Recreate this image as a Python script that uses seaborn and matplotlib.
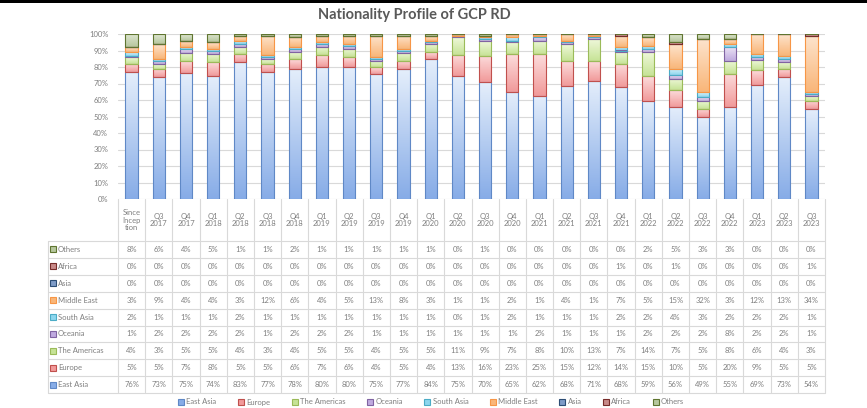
import numpy as np
import pandas as pd
import seaborn as sns
import matplotlib.pyplot as plt
from matplotlib.colors import LinearSegmentedColormap
from matplotlib.patches import Patch, Rectangle

# ---- data (percent share per period) ----
periods = ["Since\nIncep\ntion", "Q3\n2017", "Q4\n2017", "Q1\n2018", "Q2\n2018", "Q3\n2018",
           "Q4\n2018", "Q1\n2019", "Q2\n2019", "Q3\n2019", "Q4\n2019", "Q1\n2020",
           "Q2\n2020", "Q3\n2020", "Q4\n2020", "Q1\n2021", "Q2\n2021", "Q3\n2021",
           "Q4\n2021", "Q1\n2022", "Q2\n2022", "Q3\n2022", "Q4\n2022", "Q1\n2023",
           "Q2\n2023", "Q3\n2023"]

east_asia = [76, 73, 75, 74, 83, 77, 78, 80, 80, 75, 77, 84, 75, 70, 65, 62, 68, 71, 68, 59, 56, 49, 55, 69, 73, 54]
europe = [5, 5, 7, 8, 5, 5, 6, 7, 6, 4, 5, 4, 13, 16, 23, 25, 15, 12, 14, 15, 10, 5, 20, 9, 5, 5]
americas = [4, 3, 5, 5, 4, 3, 4, 5, 5, 4, 5, 5, 11, 9, 7, 8, 10, 13, 7, 14, 7, 5, 8, 6, 4, 3]
oceania = [1, 2, 2, 2, 2, 1, 2, 2, 2, 1, 1, 1, 1, 1, 1, 2, 1, 1, 1, 2, 2, 2, 8, 2, 2, 1]
south_asia = [2, 1, 1, 1, 2, 1, 1, 1, 1, 1, 1, 1, 0, 1, 2, 1, 1, 1, 2, 2, 4, 3, 2, 2, 2, 1]
middle_east = [3, 9, 4, 4, 3, 12, 6, 4, 5, 13, 8, 3, 1, 1, 2, 1, 4, 1, 7, 5, 15, 32, 3, 12, 13, 34]
asia = [0] * 26
africa = [0, 0, 0, 0, 0, 0, 0, 0, 0, 0, 0, 0, 0, 0, 0, 0, 0, 0, 1, 0, 1, 0, 0, 0, 0, 1]
others = [8, 6, 4, 5, 1, 1, 2, 1, 1, 1, 1, 1, 0, 1, 0, 0, 0, 0, 0, 2, 5, 3, 3, 0, 0, 0]

regions = ["East Asia", "Europe", "The Americas", "Oceania", "South Asia",
           "Middle East", "Asia", "Africa", "Others"]
series = [east_asia, europe, americas, oceania, south_asia, middle_east, asia, africa, others]

# (gradient top, gradient bottom, border)
colors = {
    "East Asia": ("#e4eefb", "#87ace7", "#5f88c6"),
    "Europe": ("#fcdcdc", "#f19a9a", "#c0504d"),
    "The Americas": ("#eff8da", "#c6e396", "#9bbb59"),
    "Oceania": ("#ebe2f4", "#bfaadf", "#8064a2"),
    "South Asia": ("#dcf3fb", "#8dd6ee", "#4bacc6"),
    "Middle East": ("#fde4cd", "#f9b679", "#f79646"),
    "Asia": ("#c8d6eb", "#7e9bc7", "#2c4d75"),
    "Africa": ("#eac6c5", "#c88a89", "#772c2a"),
    "Others": ("#e0e7d4", "#b6c79d", "#5f7530"),
}

W, H = 867, 408
TXT = "#7f7f7f"
GRID = "#d9d9d9"

sns.set_style("white")
plt.rcParams["font.family"] = ["Lato", "DejaVu Sans"]

df = pd.DataFrame(dict(zip(regions, series)), index=periods)
share = df.div(df.sum(axis=1), axis=0) * 100  # 100% stacked

fig = plt.figure(figsize=(W / 100, H / 100), dpi=100)
fig.patch.set_facecolor("white")

ax = fig.add_axes([118 / W, 1 - 199 / H, 707 / W, 165 / H])

grad = np.linspace(1, 0, 64).reshape(-1, 1)
bottom = np.zeros(len(periods))
for region in regions:
    top_c, bot_c, edge_c = colors[region]
    n0 = len(ax.patches)
    sns.barplot(x=periods, y=share[region].values, bottom=bottom, order=periods,
                color=bot_c, width=0.45, edgecolor=edge_c, linewidth=0.8,
                errorbar=None, ax=ax)
    cmap = LinearSegmentedColormap.from_list(region, [top_c, bot_c])
    # excel-like vertical gradient inside each segment
    for p in ax.patches[n0:]:
        x0, y0, w, h = p.get_x(), p.get_y(), p.get_width(), p.get_height()
        if h > 0:
            ax.imshow(grad, extent=(x0, x0 + w, y0, y0 + h), cmap=cmap,
                      aspect="auto", origin="lower", zorder=1, vmin=0, vmax=1)
        p.set_facecolor("none")
        p.set_zorder(2)
    bottom = bottom + share[region].values

ax.set_xlim(-0.5, len(periods) - 0.5)
ax.set_ylim(0, 100)
ax.set_yticks(range(0, 101, 10))
ax.set_yticklabels([f"{v}%" for v in range(0, 101, 10)])
ax.set_xticks([])
ax.set_xlabel("")
ax.set_ylabel("")
ax.yaxis.grid(True, color=GRID, lw=0.8)
ax.set_axisbelow(True)
ax.tick_params(axis="y", labelsize=5.5, labelcolor=TXT, length=0, pad=7)
sns.despine(ax=ax, left=True, bottom=True)

# ---- data table drawn in pixel space ----
tax = fig.add_axes([0, 0, 1, 1])
tax.set_xlim(0, W)
tax.set_ylim(H, 0)
tax.axis("off")
tax.patch.set_visible(False)

x_left, x0_cols, x_right = 48, 118, 825
col_w = (x_right - x0_cols) / len(periods)
y_head, y_rows, row_h = 199, 241, 16.9
xs = x0_cols + np.arange(len(periods) + 1) * col_w
y_end = y_rows + row_h * len(regions)

for x in xs:
    tax.plot([x, x], [y_head, y_end], color=GRID, lw=0.8)
tax.plot([x_left, x_left], [y_rows, y_end], color=GRID, lw=0.8)
for k in range(len(regions) + 1):
    y = y_rows + k * row_h
    tax.plot([x_left, x_right], [y, y], color=GRID, lw=0.8)

for i, lab in enumerate(periods):
    tax.text(xs[i] + col_w / 2, (y_head + y_rows) / 2, lab, ha="center", va="center",
             fontsize=5.5, color=TXT, linespacing=1.15)

for k, region in enumerate(regions[::-1]):
    yc = y_rows + (k + 0.5) * row_h
    top_c, bot_c, edge_c = colors[region]
    tax.add_patch(Rectangle((50, yc - 3), 6, 6, facecolor=bot_c, edgecolor=edge_c, lw=0.8))
    tax.text(58, yc, region, ha="left", va="center", fontsize=5.5, color=TXT)
    for i, v in enumerate(df[region].values):
        tax.text(xs[i] + col_w / 2, yc, f"{v}%", ha="center", va="center",
                 fontsize=5.5, color=TXT)

handles = [Patch(facecolor=colors[r][1], edgecolor=colors[r][2], lw=0.8) for r in regions]
fig.legend(handles, regions, loc="center", bbox_to_anchor=(431 / W, 1 - 402 / H),
           ncol=len(regions), frameon=False, fontsize=5.5, labelcolor=TXT,
           handlelength=0.8, handleheight=0.8, handletextpad=0.3, columnspacing=2.8)

fig.text(414 / W, 1 - 15 / H, "Nationality Profile of GCP RD", ha="center", va="center",
         fontsize=10.5, fontweight="bold", color="#595959")

# thin black strip along the top edge
fig.patches.append(Rectangle((0, 1 - 3 / H), 1, 3 / H, transform=fig.transFigure,
                             facecolor="black", edgecolor="none"))

fig.savefig("out.png", dpi=100)
